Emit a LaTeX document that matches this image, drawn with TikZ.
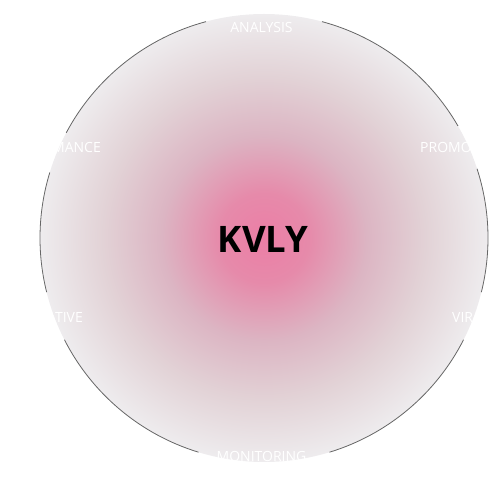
\documentclass[tikz,border=0pt]{standalone}
\usepackage{fontspec}
\setmainfont{Open Sans}
\definecolor{kpink}{HTML}{EC7EA6}
\definecolor{kc1}{HTML}{E68AAA}
\definecolor{kc2}{HTML}{DCB5C3}
\definecolor{kc3}{HTML}{E2D2D6}
\definecolor{kgray}{HTML}{EEECEE}
\definecolor{kline}{HTML}{666666}
\pgfdeclareradialshading{kvlyrad}{\pgfpoint{0bp}{0bp}}{color(0bp)=(kpink); color(5bp)=(kc1); color(11.5bp)=(kc2); color(18bp)=(kc3); color(25bp)=(kgray); color(50bp)=(kgray)}
\begin{document}
\begin{tikzpicture}[x=1pt,y=1pt,
  lbl/.style={text=white, font=\fontsize{14}{16}\selectfont, inner sep=0pt},
  rim/.style={draw=kline, line width=0.8pt}]
\useasboundingbox (0,0) rectangle (501,484);
\node[circle, minimum size=448pt, inner sep=0pt, shading=kvlyrad] (hub) at (264,246) {};
\node[font=\fontsize{36.5}{40}\selectfont\bfseries, text=black, inner sep=0pt] (title) at (263,244.5) {KVLY};
% rim arcs with gaps at labels
\draw[rim] ([shift={(30:224pt)}]hub.center) arc[start angle=30, end angle=75, radius=224pt];
\draw[rim] ([shift={(105:224pt)}]hub.center) arc[start angle=105, end angle=152, radius=224pt];
\draw[rim] ([shift={(163:224pt)}]hub.center) arc[start angle=163, end angle=194, radius=224pt];
\draw[rim] ([shift={(207:224pt)}]hub.center) arc[start angle=207, end angle=253, radius=224pt];
\draw[rim] ([shift={(287:224pt)}]hub.center) arc[start angle=287, end angle=333, radius=224pt];
\draw[rim] ([shift={(346:224pt)}]hub.center) arc[start angle=346, end angle=378, radius=224pt];
% labels
\node[lbl] (analysis) at (261.5,456) {ANALYSIS};
\node[lbl] (monitoring) at (261.5,28) {MONITORING};
\node[lbl, anchor=east] (performance) at (101,336.5) {PERFORMANCE};
\node[lbl, anchor=west] (promotion) at (420,336.5) {PROMOTION};
\node[lbl, anchor=east] (creative) at (83,166.5) {CREATIVE};
\node[lbl, anchor=west] (viral) at (452,166.5) {VIRAL};
\end{tikzpicture}
\end{document}
